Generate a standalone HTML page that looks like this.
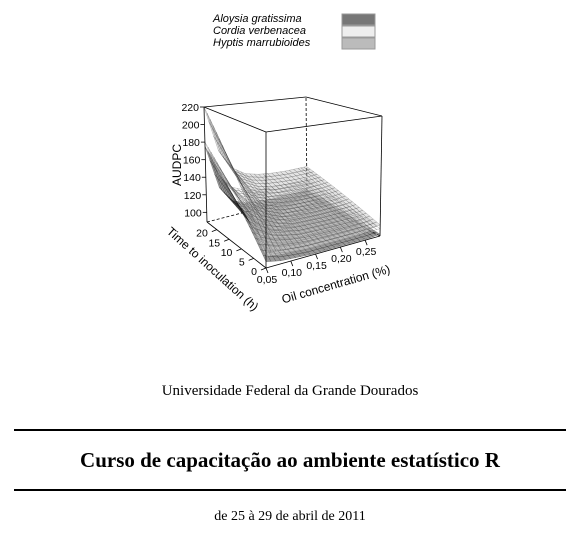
<!DOCTYPE html>
<html><head><meta charset="utf-8">
<style>
body{margin:0;background:#fff;width:580px;height:539px;overflow:hidden;position:relative;font-family:"Liberation Serif",serif}
.t{position:absolute;left:0;width:580px;text-align:center;color:#000}
.rule{position:absolute;left:14px;width:552px;height:2px;background:#000}
</style></head><body>
<svg width="580" height="340" style="position:absolute;left:0;top:0" font-family="Liberation Sans, sans-serif">
<g font-style="italic" font-size="11" fill="#000">
<text x="213" y="22">Aloysia gratissima</text>
<text x="213" y="34">Cordia verbenacea</text>
<text x="213" y="46">Hyptis marrubioides</text>
<rect x="342" y="14" width="33" height="11" fill="#777" stroke="#999"/>
<rect x="342" y="26" width="33" height="11" fill="#eee" stroke="#999"/>
<rect x="342" y="38" width="33" height="11" fill="#bbb" stroke="#999"/>
</g>
<g id="plot"></g>
</svg>
<div class="t" style="top:383px;font-size:15px">Universidade Federal da Grande Dourados</div>
<div class="rule" style="top:429px"></div>
<div class="t" style="top:448px;font-size:21px;font-weight:bold">Curso de capacitação ao ambiente estatístico R</div>
<div class="rule" style="top:489px"></div>
<div class="t" style="top:509px;font-size:14px">de 25 à 29 de abril de 2011</div>
<script>
const oil=[0.05,0.08,0.11,0.14,0.17,0.20,0.23,0.26,0.28];
const time=[0,8,16,24];
const hyptis=[[104,102,101,100,100,100,100,100,101],[143,124,116,111,110,109,109,109,110],[181,146,130,123,120,119,118,118,119],[220,168,145,135,131,129,128,128,128]];
const cordia=[[100,98,97,96,96,96,96,97,97],[127,112,105,102,101,101,101,102,102],[153,126,114,109,107,106,106,106,107],[180,140,122,115,112,111,111,111,112]];
const aloysia=[[95,92,91,90,90,90,90,90,91],[122,103,96,93,93,92,92,92,93],[148,114,101,97,95,95,95,95,96],[175,125,106,100,98,97,97,97,98]];
const zTicks=[100,120,140,160,180,200,220];
const tTicks=[0,5,10,15,20];
const xTicks=[0.05,0.10,0.15,0.20,0.25];
const xTickLabels=["0,05","0,10","0,15","0,20","0,25"];
const X0=0.05,X1=0.28,T1=24,Z0=89,Z1=220;
function P(x,t,z){const u=(x-X0)/(X1-X0),v=t/T1,w=(z-Z0)/(Z1-Z0);
const ux=114+2*w,uy=-32+16*w,vx=-59-3*w,vy=-46+21*w;
return [266+u*ux+v*vx-14*u*v,268-136*w+u*uy+v*vy+6*u*v];}
const NS="http://www.w3.org/2000/svg",g=document.getElementById('plot');
function el(tag,a,parent){const e=document.createElementNS(NS,tag);for(const k in a)e.setAttribute(k,a[k]);(parent||g).appendChild(e);return e;}
function line(p,q,dash,name){const e=el('line',{x1:p[0],y1:p[1],x2:q[0],y2:q[1],stroke:'#000','stroke-width':0.8,'stroke-dasharray':dash?'3,2':'none'});

}
line(P(X0,T1,Z0),P(X1,T1,Z0),true,'box-back-bottom-edge');
line(P(X1,T1,Z0),P(X1,0,Z0),true,'box-back-bottom-edge');
line(P(X1,T1,Z0),P(X1,T1,Z1),true,'box-back-vertical-edge');
function surf(data,fill,op,stroke,name){const sg=el('g',{});


const NA=7,NB=3;
for(let i=data.length-2;i>=0;i--)for(let j=oil.length-2;j>=0;j--)for(let a=NA-1;a>=0;a--)for(let b=NB-1;b>=0;b--){
const pts=[[a,b],[a+1,b],[a+1,b+1],[a,b+1]].map(([da,db])=>{const fa=da/NA,fb=db/NB;
const z=(1-fa)*(1-fb)*data[i][j]+fa*(1-fb)*data[i+1][j]+(1-fa)*fb*data[i][j+1]+fa*fb*data[i+1][j+1];
const t=time[i]+fa*(time[i+1]-time[i]),x=oil[j]+fb*(oil[j+1]-oil[j]);return P(x,t,z).join(',');});
el('polygon',{points:pts.join(' '),fill:fill,'fill-opacity':op,stroke:stroke,'stroke-width':0.3,'stroke-opacity':0.6},sg);}}
surf(aloysia,'#333',0.5,'#111','surface-aloysia');
surf(cordia,'#f0f0f0',0.4,'#444','surface-cordia');
surf(hyptis,'#bbb',0.4,'#333','surface-hyptis');
line(P(X0,T1,Z1),P(X1,T1,Z1),false,'box-top-edge');
line(P(X1,T1,Z1),P(X1,0,Z1),false,'box-top-edge');
line(P(X1,0,Z1),P(X0,0,Z1),false,'box-top-edge');
line(P(X0,0,Z1),P(X0,T1,Z1),false,'box-top-edge');
line(P(X0,0,Z0),P(X0,0,Z1),false,'box-front-vertical-edge');
line(P(X0,T1,Z0),P(X0,T1,Z1),false,'box-left-vertical-edge');
line(P(X1,0,Z0),P(X1,0,Z1),false,'box-right-vertical-edge');
line(P(X0,0,Z0),P(X1,0,Z0),false,'oil-axis-line');
line(P(X0,0,Z0),P(X0,T1,Z0),false,'time-axis-line');
const tg=el('g',{'font-size':10.5,fill:'#000'});
zTicks.forEach(z=>{const p=P(X0,T1,z);line(p,[p[0]-4,p[1]],false,'z-tick');
const t=el('text',{x:p[0]-5,y:p[1]+4,'text-anchor':'end'},tg);t.textContent=z;

});
tTicks.forEach(tv=>{const p=P(X0,tv,Z0);const q=[p[0]-5,p[1]+2];line(p,q,false,'time-tick');
const t=el('text',{x:p[0]-9,y:p[1]+7,'text-anchor':'end'},tg);t.textContent=tv;

});
xTicks.forEach((xv,k)=>{const p=P(xv,0,Z0);const q=[p[0]+2,p[1]+5];line(p,q,false,'oil-tick');
const t=el('text',{x:p[0]+1,y:p[1]+15,'text-anchor':'middle'},tg);t.textContent=xTickLabels[k];

});
const lg=el('g',{'font-size':12,fill:'#000'});
let a=el('text',{x:0,y:0,transform:'translate(181,165) rotate(-90)','text-anchor':'middle'},lg);a.textContent='AUDPC';

a=el('text',{x:0,y:0,transform:'translate(210,272) rotate(42)','text-anchor':'middle'},lg);a.textContent='Time to inoculation (h)';

a=el('text',{x:0,y:0,transform:'translate(337,288) rotate(-16)','text-anchor':'middle'},lg);a.textContent='Oil concentration (%)';

</script>
</body></html>
